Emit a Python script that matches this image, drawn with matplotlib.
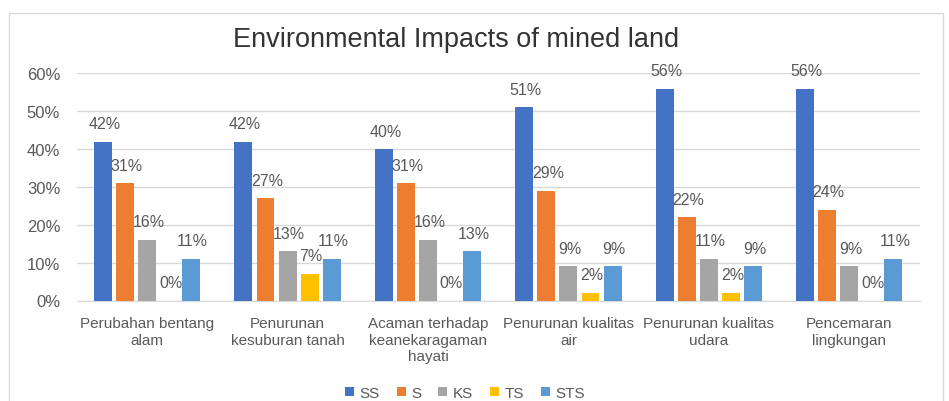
import numpy as np
import matplotlib
matplotlib.use('Agg')
import matplotlib.pyplot as plt
from matplotlib.patches import Rectangle

categories = ["Perubahan bentang\nalam", "Penurunan\nkesuburan tanah",
              "Acaman terhadap\nkeanekaragaman\nhayati", "Penurunan kualitas\nair",
              "Penurunan kualitas\nudara", "Pencemaran\nlingkungan"]
series_names = ["SS", "S", "KS", "TS", "STS"]
ss = [42, 42, 40, 51, 56, 56]
s = [31, 27, 31, 29, 22, 24]
ks = [16, 13, 16, 9, 11, 9]
ts = [0, 7, 0, 2, 2, 0]
sts = [11, 11, 13, 9, 9, 11]
colors = ["#4472C4", "#ED7D31", "#A5A5A5", "#FFC000", "#5B9BD5"]

plt.rcParams['font.family'] = ['Liberation Sans', 'DejaVu Sans']

fig = plt.figure(figsize=(9.49, 4.02), dpi=100)
ax = fig.add_axes([0.081, 0.25, 0.888, 0.565])

# light frame round the chart area
fig.patches.append(Rectangle((0.009, -0.01), 0.985, 0.975, transform=fig.transFigure,
                             fill=False, edgecolor="#d9d9d9", linewidth=1))

x = np.arange(len(categories))
step = 0.157
width = 0.128
all_vals = [ss, s, ks, ts, sts]
for i, (name, vals, c) in enumerate(zip(series_names, all_vals, colors)):
    pos = x + (i - 2) * step
    ax.bar(pos, vals, width, color=c, label=name, zorder=3)
    for p, v in zip(pos, vals):
        ax.annotate("%d%%" % v, (p, v), xytext=(1, 13), textcoords="offset points",
                    ha="center", va="center", fontsize=11.5, color="#595959", zorder=4)

ax.set_ylim(0, 60)
ax.set_xlim(-0.5, len(categories) - 0.5)
ax.set_yticks(range(0, 61, 10))
ax.set_yticklabels(["%d%%" % t for t in range(0, 61, 10)], fontsize=12, color="#595959")
ax.set_xticks(x)
ax.set_xticklabels(categories, fontsize=11, color="#595959", linespacing=1.25)
ax.tick_params(axis="y", length=0, pad=12)
ax.tick_params(axis="x", length=0, pad=11)
ax.grid(axis="y", color="#d9d9d9", linewidth=1, zorder=0)
for sp in ["top", "right", "left"]:
    ax.spines[sp].set_visible(False)
ax.spines["bottom"].set_color("#d9d9d9")

fig.text(0.481, 0.9, "Environmental Impacts of mined land", ha="center", va="center",
         fontsize=19.5, color="#333333")

fig.legend(loc="center", bbox_to_anchor=(0.49, 0.02), ncol=5, frameon=False,
           fontsize=11, handlelength=0.6, handleheight=0.6, columnspacing=1.1,
           handletextpad=0.35, labelcolor="#595959")

fig.savefig("out.png", dpi=100)
